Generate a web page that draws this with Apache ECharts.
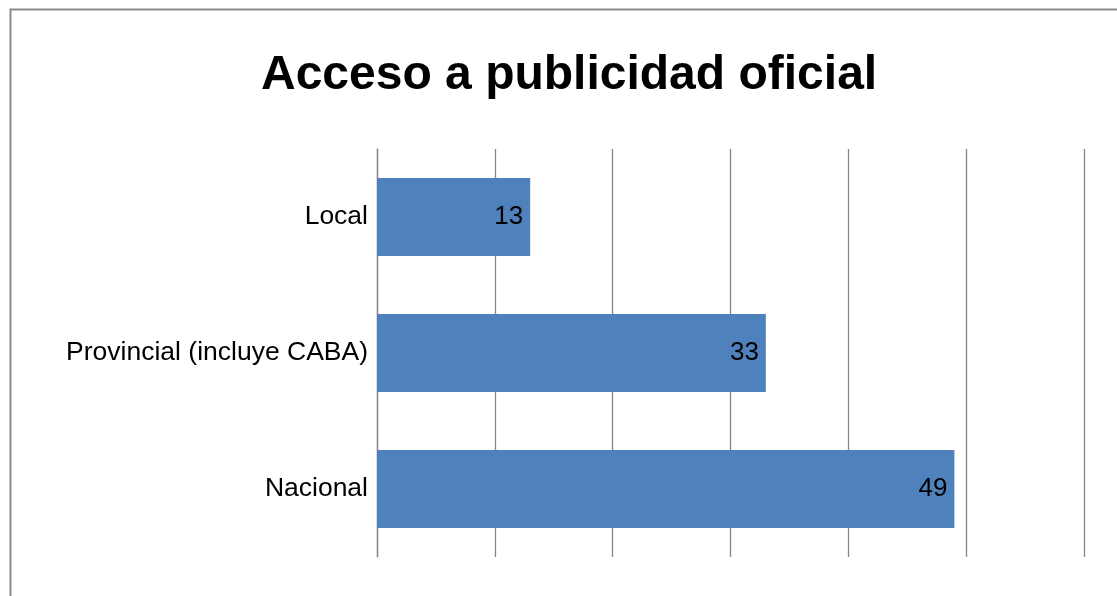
<!DOCTYPE html>
<html><head><meta charset="utf-8">
<script src="https://cdn.jsdelivr.net/npm/echarts@6/dist/echarts.min.js"></script>
<style>html,body{margin:0;padding:0;background:#fff}#c{width:1117px;height:596px}</style>
</head><body><div id="c"></div>
<script>
const categories = ["Nacional", "Provincial (incluye CABA)", "Local"];
const values = [49, 33, 13];
const titleText = "Acceso a publicidad oficial";

const chart = echarts.init(document.getElementById('c'));
chart.setOption({
  animation: false,
  backgroundColor: '#fff',
  graphic: [{
    type: 'rect', left: 8, top: 7,
    shape: { width: 1200, height: 700 },
    style: { fill: 'none', stroke: '#8c8c8c', lineWidth: 2 }
  }],
  title: {
    text: titleText, left: 256, top: 47,
    textStyle: { fontFamily: 'Liberation Sans', fontWeight: 'bold', fontSize: 48, color: '#000' }
  },
  grid: { left: 377, right: 33, top: 149, bottom: 39, containLabel: false },
  xAxis: {
    type: 'value', min: 0, max: 60, interval: 10,
    axisLabel: { show: false }, axisTick: { show: false }, axisLine: { show: false },
    splitLine: { show: true, lineStyle: { color: '#868686', width: 1.3 } }
  },
  yAxis: {
    type: 'category', data: categories,
    axisTick: { show: false },
    axisLine: { show: true, lineStyle: { color: '#868686', width: 1.3 } },
    axisLabel: { fontFamily: 'Liberation Sans', fontSize: 26.5, color: '#000', margin: 9 }
  },
  series: [{
    type: 'bar', data: values, barCategoryGap: '42.6%',
    itemStyle: { color: '#4F81BD' },
    label: { show: true, position: 'insideRight', distance: 7,
      fontFamily: 'Liberation Sans', fontSize: 26, color: '#000' }
  }]
});
</script></body></html>
